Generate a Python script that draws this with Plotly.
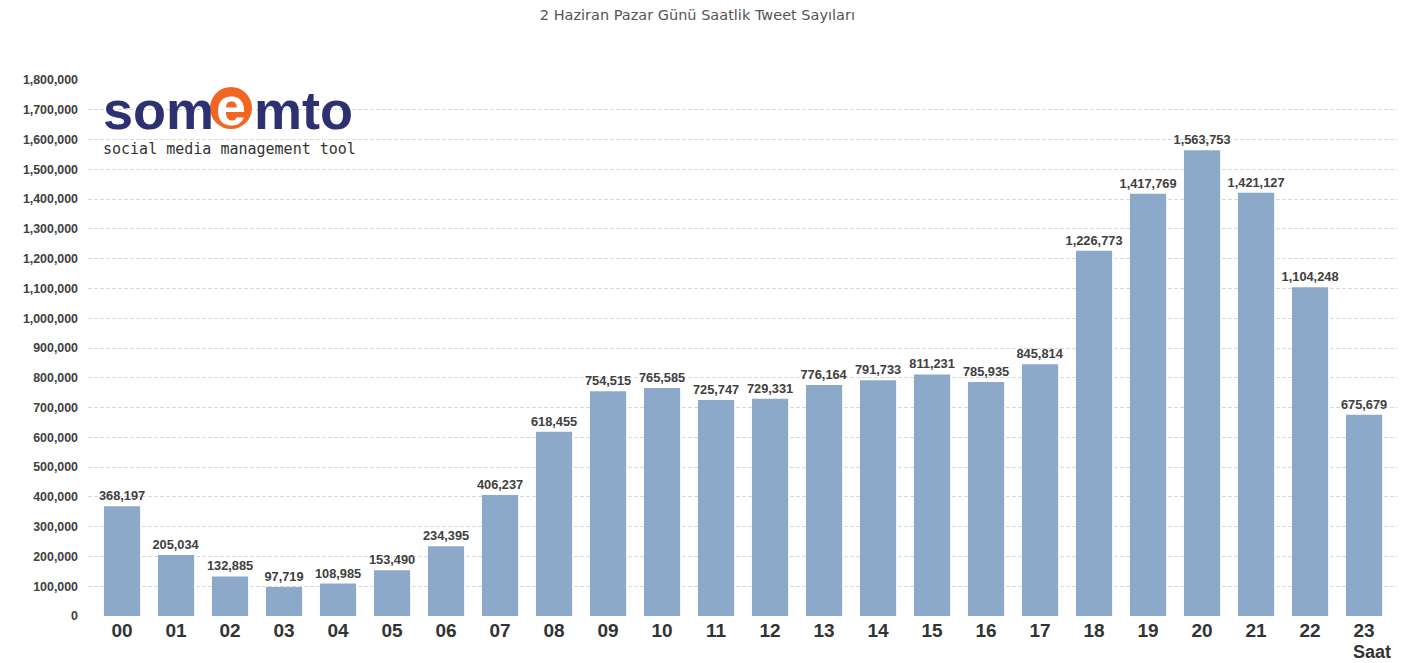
import plotly.graph_objects as go

hours = ["00", "01", "02", "03", "04", "05", "06", "07", "08", "09", "10", "11",
         "12", "13", "14", "15", "16", "17", "18", "19", "20", "21", "22", "23"]
tweets = [368197, 205034, 132885, 97719, 108985, 153490, 234395, 406237, 618455,
          754515, 765585, 725747, 729331, 776164, 791733, 811231, 785935, 845814,
          1226773, 1417769, 1563753, 1421127, 1104248, 675679]
y_ticks = list(range(0, 1800001, 100000))

title = "2 Haziran Pazar Günü Saatlik Tweet Sayıları"
sans = "Liberation Sans, Arial"

fig = go.Figure()
fig.add_trace(go.Bar(
    x=hours, y=tweets,
    marker=dict(color="#8DA9CA", line=dict(width=0)),
    text=[f"{v:,}" for v in tweets],
    textposition="outside",
    constraintext="none",
    textfont=dict(family=sans, size=12.8, color="#404040", weight="bold"),
    cliponaxis=False,
    hoverinfo="x+y",
))

fig.update_layout(
    width=1406, height=663,
    margin=dict(l=88, r=9, t=80, b=47),
    paper_bgcolor="white", plot_bgcolor="white",
    bargap=0.33,
    showlegend=False,
    title=dict(text=title, x=0.496, xanchor="center", y=0.977, yanchor="middle",
               font=dict(family="DejaVu Sans", size=14.5, color="#555555")),
    xaxis=dict(
        type="category", range=[-0.63, 23.61],
        showgrid=False, showline=False, zeroline=False,
        ticks="", tickfont=dict(family=sans, size=19, color="#333333", weight="bold"),
        ticklabelstandoff=1,
    ),
    yaxis=dict(
        range=[0, 1800000], tickvals=y_ticks, tickformat=",",
        showgrid=True, gridcolor="#D9D9D9", griddash="4px,2px", gridwidth=1,
        zeroline=False, showline=False, ticks="",
        tickfont=dict(family=sans, size=12.4, color="#404040", weight="bold"),
        ticklabelstandoff=9,
    ),
)

# "Saat" axis label under the last category
fig.add_annotation(text="Saat", xref="paper", yref="paper", x=(1372 - 88) / 1309, y=-(652 - 616) / 536,
                   xanchor="center", yanchor="middle", showarrow=False,
                   font=dict(family=sans, size=18, color="#333333", weight="bold"))

# Logo (pixel -> paper helpers)
def px(x):
    return (x - 88) / 1309

def py(y):
    return (616 - y) / 536

navy = "#2E3171"
orange = "#F26522"
fig.add_annotation(text="som", xref="paper", yref="paper", x=px(101), y=py(110), xanchor="left",
                   yanchor="middle", showarrow=False,
                   font=dict(family=sans, size=54, color=navy, weight="bold"))
fig.add_shape(type="circle", xref="paper", yref="paper", x0=px(210), x1=px(252), y0=py(129), y1=py(87),
              fillcolor=orange, line=dict(width=0))
fig.add_annotation(text="e", xref="paper", yref="paper", x=px(231), y=py(106), xanchor="center",
                   yanchor="middle", showarrow=False,
                   font=dict(family=sans, size=54, color="white", weight="bold"))
fig.add_annotation(text="mto", xref="paper", yref="paper", x=px(252), y=py(110), xanchor="left",
                   yanchor="middle", showarrow=False,
                   font=dict(family=sans, size=54, color=navy, weight="bold"))
fig.add_annotation(text="social media management tool", xref="paper", yref="paper", x=px(101), y=py(149),
                   xanchor="left", yanchor="middle", showarrow=False,
                   font=dict(family="DejaVu Sans Mono", size=15, color="#333333"))

fig.write_html("out.html")
